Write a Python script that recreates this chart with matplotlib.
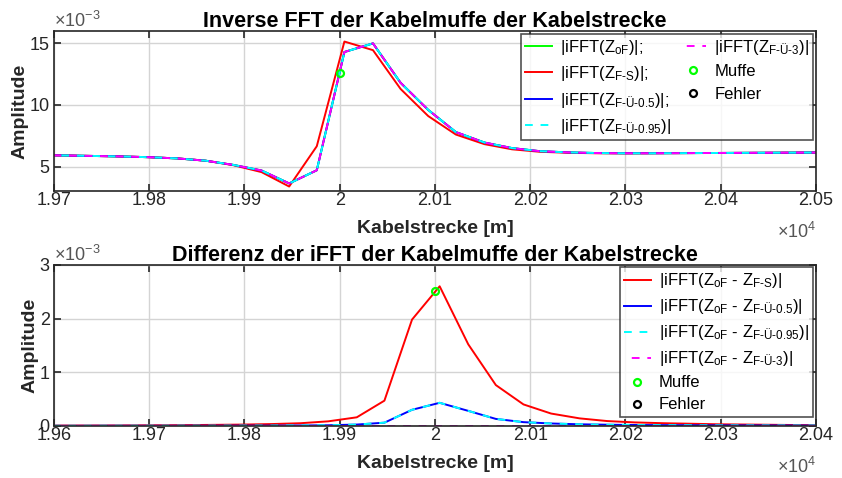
import matplotlib
matplotlib.use("Agg")
import matplotlib.pyplot as plt
from matplotlib.ticker import FuncFormatter, MultipleLocator

plt.rcParams["font.family"] = ["Liberation Sans", "DejaVu Sans"]
plt.rcParams["mathtext.fontset"] = "custom"
plt.rcParams["mathtext.rm"] = "Liberation Sans"
plt.rcParams["mathtext.it"] = "Liberation Sans:italic"
plt.rcParams["mathtext.bf"] = "Liberation Sans:bold"

# sample positions along the cable [m]
x_m = [19566, 19595, 19625, 19654, 19683, 19712, 19742, 19771, 19800, 19830,
       19859, 19888, 19918, 19947, 19976, 20005, 20035, 20064, 20093, 20122,
       20152, 20181, 20210, 20240, 20269, 20298, 20328, 20357, 20386, 20416,
       20445, 20474, 20503, 20533]

# top: |iFFT| amplitudes (x1e-3)
ifft_oF = [5.96, 5.95, 5.94, 5.93, 5.92, 5.90, 5.86, 5.82, 5.76, 5.66,
           5.48, 5.14, 4.68, 3.63, 4.70, 14.3, 15.0, 11.8, 9.6, 7.8,
           6.95, 6.5, 6.25, 6.15, 6.1, 6.08, 6.08, 6.09, 6.1, 6.11,
           6.12, 6.13, 6.14, 6.15]
ifft_FS = [5.96, 5.95, 5.94, 5.93, 5.92, 5.90, 5.86, 5.82, 5.76, 5.66,
           5.48, 5.12, 4.55, 3.38, 6.65, 15.15, 14.45, 11.3, 9.1, 7.6,
           6.82, 6.4, 6.2, 6.12, 6.08, 6.07, 6.08, 6.09, 6.1, 6.11,
           6.12, 6.13, 6.14, 6.15]
ifft_FU05 = ifft_oF
ifft_FU095 = ifft_oF
ifft_FU3 = ifft_oF

# bottom: |iFFT(Z_oF - Z_x)| (x1e-3)
diff_FS = [0.005, 0.006, 0.007, 0.008, 0.01, 0.012, 0.015, 0.02, 0.025, 0.035,
           0.05, 0.085, 0.16, 0.47, 1.98, 2.6, 1.52, 0.76, 0.4, 0.23,
           0.14, 0.09, 0.065, 0.05, 0.04, 0.03, 0.025, 0.02, 0.015, 0.012,
           0.01, 0.01, 0.01, 0.01]
diff_FU05 = [0.002, 0.002, 0.002, 0.003, 0.003, 0.003, 0.004, 0.004, 0.005, 0.006,
             0.008, 0.012, 0.025, 0.06, 0.30, 0.43, 0.28, 0.13, 0.07, 0.045,
             0.03, 0.022, 0.017, 0.014, 0.012, 0.01, 0.009, 0.008, 0.007, 0.006,
             0.006, 0.005, 0.005, 0.005]
diff_FU095 = diff_FU05
diff_FU3 = [0.0] * len(x_m)

muffe_x = [20000]
muffe_top = [12.6]
muffe_bot = [2.52]

ax_col = "#262626"
tick_fs = 13


def style_axes(ax, xlim, ylim, yticks):
    ax.set_xlim(*xlim)
    ax.set_ylim(*ylim)
    ax.xaxis.set_major_locator(MultipleLocator(100))
    ax.set_yticks(yticks)
    ax.xaxis.set_major_formatter(FuncFormatter(lambda v, p: f"{v / 1e4:g}"))
    ax.yaxis.set_major_formatter(FuncFormatter(lambda v, p: f"{v * 1e3:g}"))
    ax.tick_params(direction="in", top=True, right=True, labelsize=tick_fs,
                   colors=ax_col, length=5, width=1.2)
    ax.tick_params(axis="x", pad=0.5)
    ax.tick_params(axis="y", pad=3)
    for s in ax.spines.values():
        s.set_color(ax_col)
        s.set_linewidth(1.2)
    ax.grid(True, color="#d4d4d4", linewidth=1.0)
    ax.set_axisbelow(True)
    ax.set_xlabel("Kabelstrecke [m]", fontsize=14, fontweight="bold", color=ax_col, labelpad=8)
    ax.set_ylabel("Amplitude", fontsize=14, fontweight="bold", color=ax_col, labelpad=1)
    ax.text(0.0, 1.0, r"$\times10^{-3}$", transform=ax.transAxes, ha="left", va="bottom",
            fontsize=tick_fs, color="#555555")
    ax.text(1.0, -0.19, r"$\times10^{4}$", transform=ax.transAxes, ha="right", va="top",
            fontsize=tick_fs, color="#555555")


fig = plt.figure(figsize=(8.42, 4.78), dpi=100)
ax1 = fig.add_axes([0.064, 0.600, 0.905, 0.335])
ax2 = fig.add_axes([0.064, 0.109, 0.905, 0.337])

e = 1e-3
lw = 1.4
H = "\u2010"
leg_fs = 12

ax1.plot(x_m, [v * e for v in ifft_oF], color="#00ff00", lw=lw, label=r"|iFFT(Z$_{\mathrm{oF}}$)|;")
ax1.plot(x_m, [v * e for v in ifft_FS], color="#ff0000", lw=lw, label=r"|iFFT(Z$_{\mathrm{F" + H + r"S}}$)|;")
ax1.plot(x_m, [v * e for v in ifft_FU05], color="#0000ff", lw=lw, label=r"|iFFT(Z$_{\mathrm{F" + H + "Ü" + H + r"0.5}}$)|;")
ax1.plot(x_m, [v * e for v in ifft_FU095], color="#00ffff", lw=lw, ls=(0, (4, 4)), label=r"|iFFT(Z$_{\mathrm{F" + H + "Ü" + H + r"0.95}}$)|")
ax1.plot(x_m, [v * e for v in ifft_FU3], color="#ff00ff", lw=lw, ls=(4, (4, 4)), label=r"|iFFT(Z$_{\mathrm{F" + H + "Ü" + H + r"3}}$)|")
ax1.plot(muffe_x, [v * e for v in muffe_top], "o", mfc="none", mec="#00ff00", mew=1.6, ms=5, label="Muffe")
ax1.plot([], [], "o", mfc="none", mec="black", mew=1.6, ms=5, label="Fehler")
style_axes(ax1, (19700, 20500), (3e-3, 16e-3), [5e-3, 10e-3, 15e-3])
ax1.set_title("Inverse FFT der Kabelmuffe der Kabelstrecke", fontsize=15.5, fontweight="bold", pad=3)
leg1 = ax1.legend(loc="upper right", ncol=2, fontsize=leg_fs, frameon=True, fancybox=False,
                  edgecolor=ax_col, handlelength=1.6, handletextpad=0.5, columnspacing=0.5,
                  labelspacing=0.45, borderpad=0.25, borderaxespad=0.15)
leg1.get_frame().set_linewidth(1.2)

ax2.plot(x_m, [v * e for v in diff_FS], color="#ff0000", lw=lw, label=r"|iFFT(Z$_{\mathrm{oF}}$ - Z$_{\mathrm{F" + H + r"S}}$)|")
ax2.plot(x_m, [v * e for v in diff_FU05], color="#0000ff", lw=lw, label=r"|iFFT(Z$_{\mathrm{oF}}$ - Z$_{\mathrm{F" + H + "Ü" + H + r"0.5}}$)|")
ax2.plot(x_m, [v * e for v in diff_FU095], color="#00ffff", lw=lw, ls=(0, (4, 4)), label=r"|iFFT(Z$_{\mathrm{oF}}$ - Z$_{\mathrm{F" + H + "Ü" + H + r"0.95}}$)|")
ax2.plot(x_m, [v * e for v in diff_FU3], color="#ff00ff", lw=lw, ls=(4, (4, 4)), label=r"|iFFT(Z$_{\mathrm{oF}}$ - Z$_{\mathrm{F" + H + "Ü" + H + r"3}}$)|")
ax2.plot(muffe_x, [v * e for v in muffe_bot], "o", mfc="none", mec="#00ff00", mew=1.6, ms=5, label="Muffe")
ax2.plot([], [], "o", mfc="none", mec="black", mew=1.6, ms=5, label="Fehler")
style_axes(ax2, (19600, 20400), (0, 3e-3), [0, 1e-3, 2e-3, 3e-3])
ax2.set_title("Differenz der iFFT der Kabelmuffe der Kabelstrecke", fontsize=15.5, fontweight="bold", pad=3)
leg2 = ax2.legend(loc="upper right", ncol=1, fontsize=leg_fs, frameon=True, fancybox=False,
                  edgecolor=ax_col, handlelength=1.6, handletextpad=0.5,
                  labelspacing=0.42, borderpad=0.25, borderaxespad=0.15)
leg2.get_frame().set_linewidth(1.2)

fig.savefig("out.png", dpi=100)
